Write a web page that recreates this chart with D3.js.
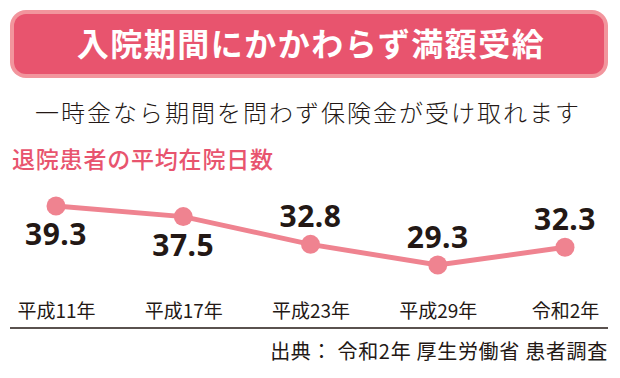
<!DOCTYPE html>
<html>
<head>
<meta charset="utf-8">
<script src="https://cdn.jsdelivr.net/npm/d3@7"></script>
<style>
	body { margin: 0; background: #fff; }
	svg { display: block; font-family: 'Noto Sans CJK JP', 'Noto Sans', sans-serif; }
</style>
</head>
<body>
<div id="chart"></div>
<script>
// data
const categories = ['平成11年', '平成17年', '平成23年', '平成29年', '令和2年']
const stayDays = [39.3, 37.5, 32.8, 29.3, 32.3]
// label above (-1) or below (1) the point
const labelSide = [1, 1, -1, -1, -1]

const title = '入院期間にかかわらず満額受給'
const subtitle = '一時金なら期間を問わず保険金が受け取れます'
const seriesLabel = '退院患者の平均在院日数'
const source = '出典： 令和2年 厚生労働省 患者調査'

const width = 620, height = 378
const pink = '#ef8390'

const svg = d3.select('#chart').append('svg')
	.attr('width', width)
	.attr('height', height)

// banner
svg.append('rect')
	.attr('x', 10).attr('y', 10)
	.attr('width', 598).attr('height', 68)
	.attr('rx', 16)
	.style('fill', '#f2959d')
svg.append('rect')
	.attr('x', 14).attr('y', 14)
	.attr('width', 590).attr('height', 60)
	.attr('rx', 12)
	.style('fill', '#e8546e')
svg.append('text')
	.attr('x', 311).attr('y', 56)
	.attr('text-anchor', 'middle')
	.style('font-size', '32px')
	.style('font-weight', 700)
	.style('letter-spacing', '1.5px')
	.style('fill', '#fff')
	.text(title)

svg.append('text')
	.attr('x', 308).attr('y', 122)
	.attr('text-anchor', 'middle')
	.style('font-size', '24px')
	.style('font-weight', 300)
	.style('letter-spacing', '2px')
	.style('fill', '#231815')
	.text(subtitle)

svg.append('text')
	.attr('x', 12).attr('y', 168)
	.style('font-size', '23px')
	.style('font-weight', 500)
	.style('letter-spacing', '0.8px')
	.style('fill', '#e8546e')
	.text(seriesLabel)

// scales
const x = d3.scalePoint().domain(categories).range([56, 565])
const y = d3.scaleLinear().domain([29.3, 39.3]).range([265, 206])

const line = d3.line()
	.x((d, i) => x(categories[i]))
	.y(d => y(d))

svg.append('path')
	.datum(stayDays)
	.attr('d', line)
	.style('fill', 'none')
	.style('stroke', pink)
	.style('stroke-width', 5)

svg.selectAll('circle.point')
	.data(stayDays)
	.enter()
	.append('circle')
	.attr('class', 'point')
	.attr('cx', (d, i) => x(categories[i]))
	.attr('cy', d => y(d))
	.attr('r', 9.5)
	.style('fill', pink)

svg.selectAll('text.value')
	.data(stayDays)
	.enter()
	.append('text')
	.attr('class', 'value')
	.attr('x', (d, i) => x(categories[i]))
	.attr('y', (d, i) => y(d) + (labelSide[i] > 0 ? 39 : -17))
	.attr('text-anchor', 'middle')
	.style('font-family', "'Noto Sans', sans-serif")
	.style('font-size', '30px')
	.style('font-weight', 700)
	.style('letter-spacing', '0.5px')
	.style('fill', '#231815')
	.text(d => d.toFixed(1))

// axis: labels only, then the rule
const axis = svg.append('g')
	.attr('transform', 'translate(0,328)')
	.call(d3.axisTop(x).tickSize(0).tickPadding(10))
axis.select('.domain').remove()
axis.selectAll('text')
	.style('font-family', "'Noto Sans CJK JP', sans-serif")
	.style('font-size', '19px')
	.style('fill', '#231815')

svg.append('line')
	.attr('x1', 10).attr('x2', 608)
	.attr('y1', 328).attr('y2', 328)
	.style('stroke', '#231815')
	.style('stroke-width', 1.5)

svg.append('text')
	.attr('x', 608).attr('y', 359)
	.attr('text-anchor', 'end')
	.style('font-size', '20px')
	.style('letter-spacing', '0.7px')
	.style('fill', '#231815')
	.text(source)
</script>
</body>
</html>
